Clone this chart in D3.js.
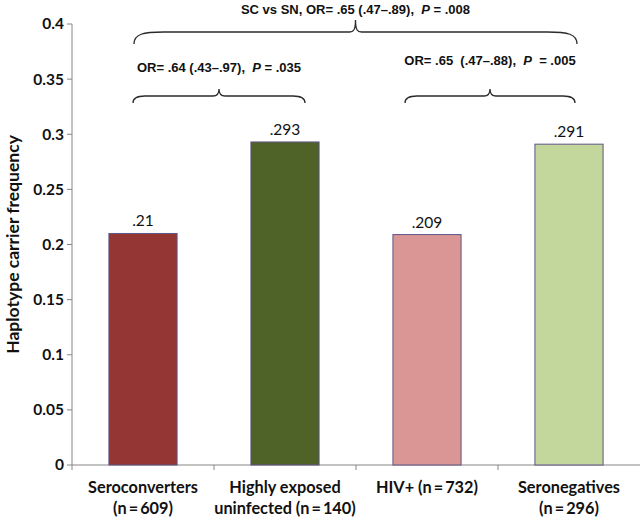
<!DOCTYPE html>
<html><head><meta charset="utf-8">
<script src="https://cdn.jsdelivr.net/npm/d3@7"></script>
<style>body{margin:0;background:#fff}svg{display:block}</style>
</head><body>
<svg id="c" width="640" height="519"></svg>
<script>
const categories = ["Seroconverters|(n\u2009=\u2009609)", "Highly exposed|uninfected (n\u2009=\u2009140)", "HIV+ (n\u2009=\u2009732)", "Seronegatives|(n\u2009=\u2009296)"];
const values = [0.21, 0.293, 0.209, 0.291];
const valueLabels = [".21", ".293", ".209", ".291"];
const colors = ["#943634", "#4F6228", "#D99694", "#C3D69B"];
const yTicks = [0, 0.05, 0.1, 0.15, 0.2, 0.25, 0.3, 0.35, 0.4];
const yTickLabels = ["0", "0.05", "0.1", "0.15", "0.2", "0.25", "0.3", "0.35", "0.4"];
const comparisons = [
  {from: 0, to: 1, text: ["OR= .64 (.43\u2013.97),  ", "P", " = .035"]},
  {from: 2, to: 3, text: ["OR= .65  (.47\u2013.88),  ", "P", "  = .005"]},
  {from: 0, to: 3, text: ["SC vs SN, OR= .65 (.47\u2013.89),  ", "P", " = .008"]}
];

const svg = d3.select("#c");
const x = d3.scaleBand().domain(categories).range([72, 640]).paddingInner(0.52).paddingOuter(0.26);
const y = d3.scaleLinear().domain([0, 0.4]).range([465, 24]);

// axes
const axisColor = "#868686";
svg.append("line").attr("x1", 72).attr("x2", 72).attr("y1", y(0.4)).attr("y2", y(0)).attr("stroke", axisColor);
svg.append("line").attr("x1", 72).attr("x2", 640).attr("y1", y(0)).attr("y2", y(0)).attr("stroke", axisColor);
yTicks.forEach((t, i) => {
  svg.append("line").attr("x1", 67).attr("x2", 72).attr("y1", y(t)).attr("y2", y(t)).attr("stroke", axisColor);
  svg.append("text").attr("x", 64).attr("y", y(t)).attr("dy", "0.35em").attr("text-anchor", "end")
    .attr("font-family", "Lato, sans-serif").attr("font-weight", "bold").attr("font-size", 15.5).attr("fill", "#111")
    .text(yTickLabels[i]);
});
// category separators
const step = x.step();
for (let i = 0; i <= categories.length; i++) {
  const xx = 72 + i * step;
  if (xx > 639) continue;
  svg.append("line").attr("x1", xx).attr("x2", xx).attr("y1", y(0)).attr("y2", y(0) + 5).attr("stroke", axisColor);
}

// y title
svg.append("text").attr("transform", `translate(19,${y(0.2)}) rotate(-90)`).attr("text-anchor", "middle")
  .attr("font-family", "Lato, sans-serif").attr("font-weight", "bold").attr("font-size", 17.5).attr("fill", "#111")
  .text("Haplotype carrier frequency");

// bars
svg.selectAll("rect.bar").data(values).join("rect").attr("class", "bar")
  .attr("x", (d, i) => x(categories[i])).attr("width", x.bandwidth())
  .attr("y", d => y(d)).attr("height", d => y(0) - y(d))
  .attr("fill", (d, i) => colors[i]).attr("stroke", "#5E5487").attr("stroke-width", 1);

svg.selectAll("text.val").data(values).join("text").attr("class", "val")
  .attr("x", (d, i) => x(categories[i]) + x.bandwidth() / 2).attr("y", d => y(d) - 7)
  .attr("text-anchor", "middle").attr("font-family", "Lato, sans-serif").attr("font-size", 15.5).attr("fill", "#111")
  .text((d, i) => valueLabels[i]);

// category labels
categories.forEach(c => {
  const lines = c.split("|");
  const t = svg.append("text").attr("text-anchor", "middle")
    .attr("font-family", "Lato, sans-serif").attr("font-weight", "bold").attr("font-size", 16.3).attr("fill", "#111");
  lines.forEach((l, j) => {
    t.append("tspan").attr("x", x(c) + x.bandwidth() / 2).attr("y", 493 + j * 21).text(l);
  });
});

// braces
function brace(x0, x1, xm, yEnd, yH, yPeak, r) {
  const p = d3.path();
  p.moveTo(x0, yEnd);
  p.bezierCurveTo(x0, yH + 2, x0 + r * 0.3, yH, x0 + r, yH);
  p.lineTo(xm - 6, yH);
  p.bezierCurveTo(xm - 2, yH, xm, yH - 2, xm, yPeak);
  p.bezierCurveTo(xm, yH - 2, xm + 2, yH, xm + 6, yH);
  p.lineTo(x1 - r, yH);
  p.bezierCurveTo(x1 - r * 0.3, yH, x1, yH + 2, x1, yEnd);
  return p.toString();
}
const cx = i => x(categories[i]) + x.bandwidth() / 2;
const braceGeo = [
  {x0: cx(0) - 10, x1: cx(1) + 20, yEnd: 103, yH: 96, yPeak: 89, r: 12, ty: 72},
  {x0: cx(2) - 22, x1: cx(3) + 6, yEnd: 103, yH: 96, yPeak: 89, r: 12, ty: 65},
  {x0: cx(0) - 9, x1: cx(3) + 8, yEnd: 44, yH: 32, yPeak: 20, r: 30, ty: 14}
];
comparisons.forEach((cmp, i) => {
  const g = braceGeo[i];
  const xm = (g.x0 + g.x1) / 2;
  svg.append("path").attr("d", brace(g.x0, g.x1, xm, g.yEnd, g.yH, g.yPeak, g.r))
    .attr("fill", "none").attr("stroke", "#2b2b2b").attr("stroke-width", 1.3);
  const t = svg.append("text").attr("x", xm).attr("y", g.ty).attr("text-anchor", "middle")
    .attr("font-family", "Liberation Sans, Arial, sans-serif").attr("font-weight", "bold").attr("font-size", 13).attr("fill", "#111")
    .attr("xml:space", "preserve").style("white-space", "pre");
  cmp.text.forEach((s, j) => t.append("tspan").attr("font-style", j === 1 ? "italic" : "normal").text(s));
});
</script>
</body></html>
